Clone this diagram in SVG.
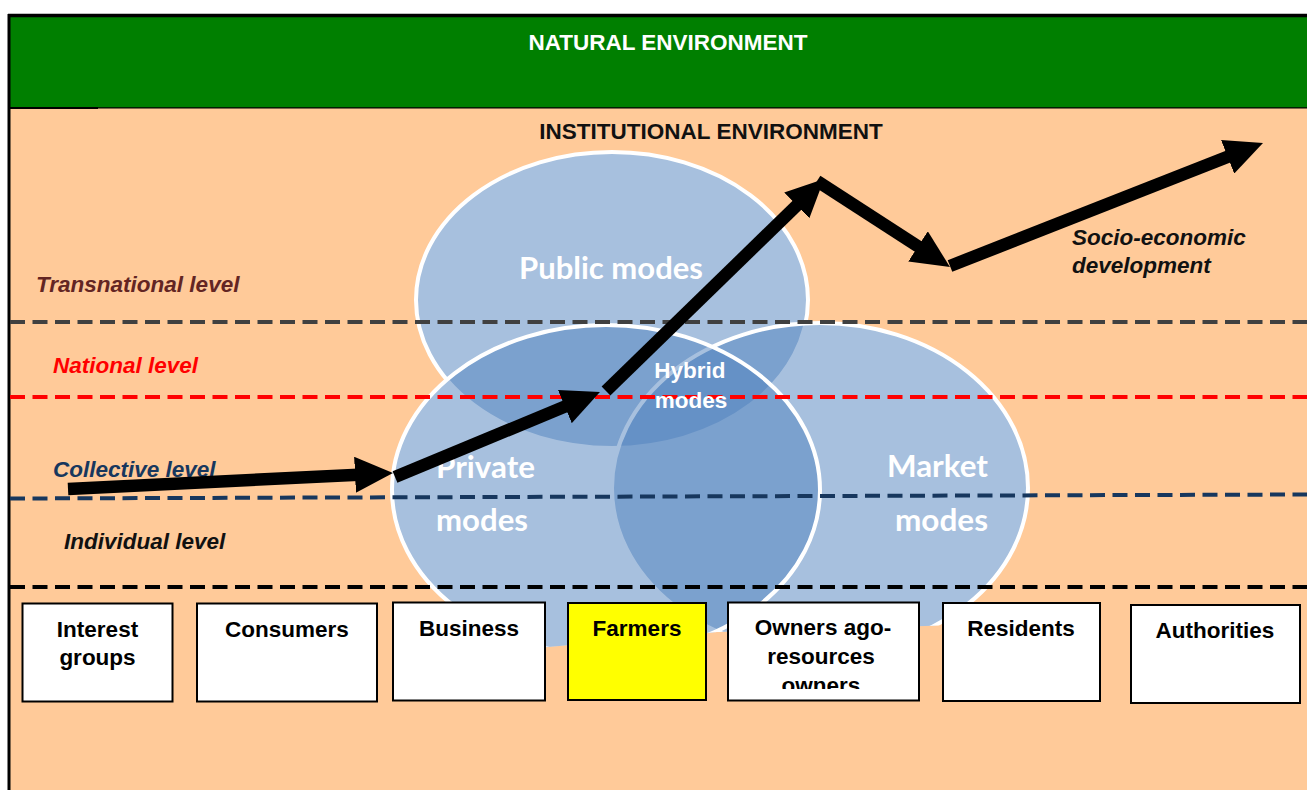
<svg xmlns="http://www.w3.org/2000/svg" width="1307" height="790" viewBox="0 0 1307 790">
<defs>
<style>
.t{font-family:"Liberation Sans",Arial,sans-serif;font-weight:bold;font-size:22.5px}
.it{font-style:italic}
.box{fill:#fff;stroke:#000;stroke-width:2}
.bt{font-family:"Liberation Sans",Arial,sans-serif;font-weight:bold;font-size:22.5px;fill:#000;text-anchor:middle}
.vt{font-family:Lato,"Open Sans",sans-serif;font-weight:bold;font-size:30px;fill:#fff}
.dash{fill:none;stroke-width:4;stroke-dasharray:15 7.5}
.arr{fill:none;stroke:#000;stroke-width:12.5;marker-end:url(#ah)}
.ven{fill:#4F81BD;fill-opacity:0.5;stroke:#fff;stroke-width:4}
</style>
<marker id="ah" viewBox="0 0 38 36" refX="19" refY="18" markerWidth="38" markerHeight="36" markerUnits="userSpaceOnUse" orient="auto">
<path d="M0,0 L38,18 L0,36 Z" fill="#000"/>
</marker>
<clipPath id="vclip">
<path d="M0,0 H1307 V622 L1050,622 L925,626 L717,632 L548,647 L380,660 L0,660 Z"/>
</clipPath>
<clipPath id="oclip">
<rect x="728" y="602" width="191" height="87"/>
</clipPath>
</defs>

<g id="background">
<rect x="0" y="0" width="1307" height="790" fill="#fff"/>
<rect x="9" y="15" width="1298" height="775" fill="#FFCA99"/>
<rect x="10" y="17" width="1297" height="91" fill="#007F00"/>
<line x1="10" y1="107.8" x2="1307" y2="107.8" stroke="#000" stroke-width="1.2"/>
<line x1="10" y1="108" x2="98" y2="108" stroke="#000" stroke-width="2"/>
<line x1="9" y1="14" x2="9" y2="790" stroke="#000" stroke-width="3"/>
<line x1="8" y1="15.5" x2="1307" y2="15.5" stroke="#000" stroke-width="3.5"/>
<text class="t" x="668" y="50" fill="#fff" text-anchor="middle">NATURAL ENVIRONMENT</text>
<text class="t" x="711" y="139" fill="#111" text-anchor="middle">INSTITUTIONAL ENVIRONMENT</text>
</g>

<g id="venn" clip-path="url(#vclip)">
<ellipse cx="612" cy="300" rx="196" ry="148" fill="#fff"/>
<ellipse cx="820" cy="488" rx="208" ry="165" fill="#fff"/>
<ellipse cx="606" cy="490" rx="214" ry="165" fill="#fff"/>
<g id="public-modes">
<ellipse class="ven" cx="612" cy="300" rx="196" ry="148"/>
</g>
<g id="market-modes">
<ellipse class="ven" cx="820" cy="488" rx="208" ry="165"/>
</g>
<g id="private-modes">
<ellipse class="ven" cx="606" cy="490" rx="214" ry="165"/>
</g>
</g>
<g id="venn-labels">
<text class="vt" x="519" y="279" textLength="184" lengthAdjust="spacingAndGlyphs">Public modes</text>
<text class="vt" x="436" y="478" textLength="99" lengthAdjust="spacingAndGlyphs">Private</text>
<text class="vt" x="436" y="531" textLength="92" lengthAdjust="spacingAndGlyphs">modes</text>
<text class="vt" x="887" y="477" textLength="101" lengthAdjust="spacingAndGlyphs">Market</text>
<text class="vt" x="895" y="531" textLength="93" lengthAdjust="spacingAndGlyphs">modes</text>
</g>

<g id="levels">
<line class="dash" x1="10" y1="322" x2="1307" y2="322" stroke="#404040"/>
<line class="dash" x1="10" y1="397" x2="1307" y2="397" stroke="#FF0000"/>
<line class="dash" x1="10" y1="498.5" x2="1307" y2="494.5" stroke="#17375E"/>
<line class="dash" x1="10" y1="587" x2="1307" y2="587" stroke="#000"/>
<text class="t it" x="36" y="292" fill="#632523">Transnational level</text>
<text class="t it" x="53" y="372.5" fill="#FF0000">National level</text>
<text class="t it" x="53" y="477" fill="#17375E">Collective level</text>
<text class="t it" x="64" y="549" fill="#111">Individual level</text>
</g>

<g id="hybrid-modes">
<text class="bt" x="690" y="378" fill="#fff" style="fill:#fff">Hybrid</text>
<text class="bt" x="691" y="408" style="fill:#fff">modes</text>
</g>

<g id="connectors">
<line class="arr" x1="68" y1="489" x2="374" y2="473.9"/>
<line class="arr" x1="395" y1="477" x2="582.4" y2="399.3"/>
<line class="arr" x1="606" y1="391" x2="810.4" y2="192.2"/>
<line class="arr" x1="817" y1="181" x2="934" y2="256.7"/>
<line class="arr" x1="950" y1="266" x2="1245.3" y2="149.9"/>
</g>

<g id="socio-economic">
<text class="t it" x="1072" y="245" fill="#111">Socio-economic</text>
<text class="t it" x="1072" y="273" fill="#111">development</text>
</g>

<g id="interest-groups">
<rect class="box" x="22.5" y="603.5" width="150" height="98"/>
<text class="bt" x="97.5" y="637">Interest</text>
<text class="bt" x="97.5" y="665">groups</text>
</g>
<g id="consumers">
<rect class="box" x="197" y="603.5" width="180" height="98"/>
<text class="bt" x="287" y="637">Consumers</text>
</g>
<g id="business">
<rect class="box" x="393" y="602.5" width="152" height="98"/>
<text class="bt" x="469" y="636">Business</text>
</g>
<g id="farmers">
<rect class="box" x="568" y="603" width="138" height="97" style="fill:#FFFF00"/>
<text class="bt" x="637" y="636">Farmers</text>
</g>
<g id="owners">
<rect class="box" x="728" y="602.5" width="191" height="98"/>
<g clip-path="url(#oclip)">
<text class="bt" x="823" y="635">Owners ago-</text>
<text class="bt" x="821" y="664">resources</text>
<text class="bt" x="821" y="693">owners</text>
</g>
</g>
<g id="residents">
<rect class="box" x="943" y="603" width="157" height="98"/>
<text class="bt" x="1021" y="636">Residents</text>
</g>
<g id="authorities">
<rect class="box" x="1131" y="605" width="169" height="98"/>
<text class="bt" x="1215" y="638">Authorities</text>
</g>
</svg>
